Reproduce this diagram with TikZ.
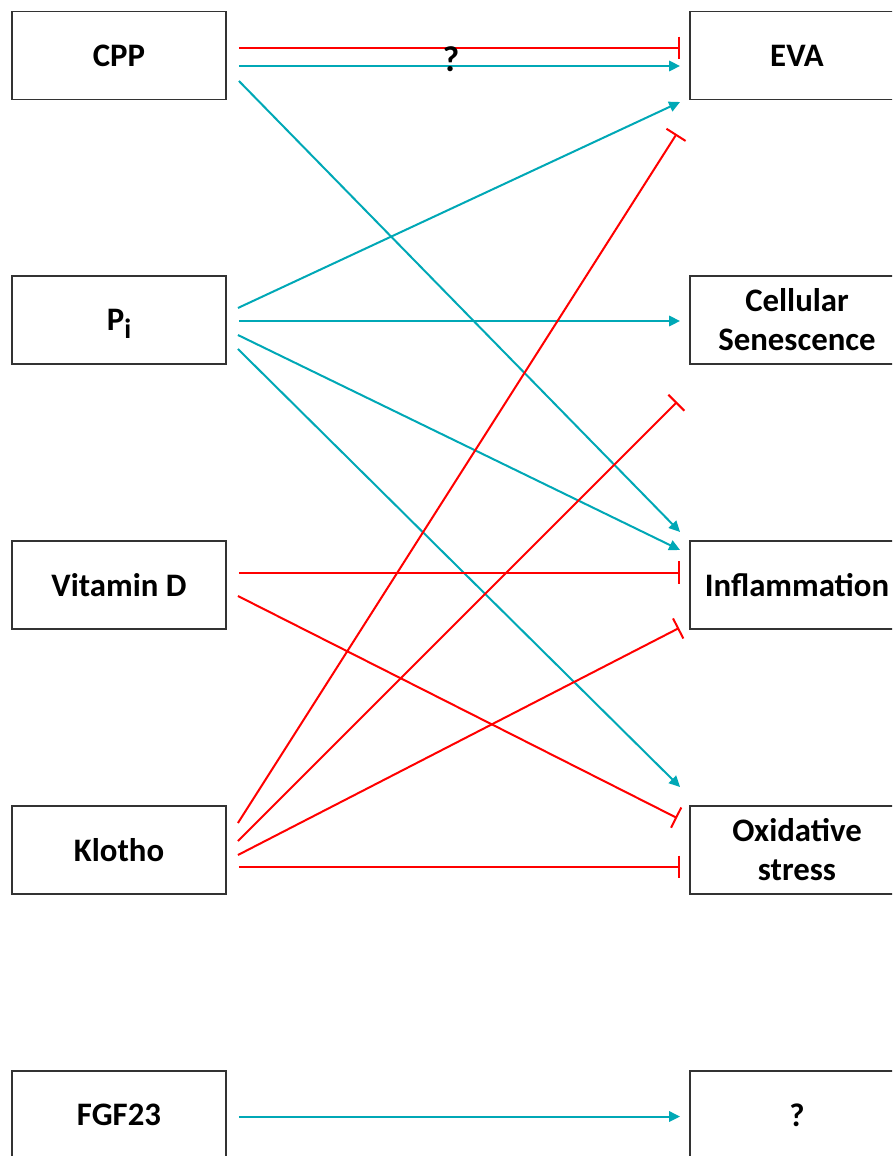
\documentclass[tikz,border=0pt]{standalone}
\usepackage{fontspec}
\setmainfont{Carlito}
\usetikzlibrary{arrows.meta}
\definecolor{teal1}{RGB}{0,168,182}
\definecolor{red1}{RGB}{255,0,0}
\tikzset{
  box/.style={draw=black!80, line width=1.4pt, fill=white, minimum width=160.5pt, minimum height=66pt,
    align=center, inner sep=0pt, font=\fontsize{24.6pt}{29.3pt}\selectfont\bfseries},
  act/.style={draw=teal1, line width=1.5pt, -{Triangle[length=8.25pt, width=7.8pt]}},
  inh/.style={draw=red1, line width=1.5pt, -{Bar[width=17pt]}},
  qlabel/.style={font=\fontsize{27pt}{30pt}\selectfont\bfseries, inner sep=0pt}
}
\begin{document}
\begin{tikzpicture}[x=0.75pt, y=-0.75pt]
\useasboundingbox (0,0) rectangle (892,1156);
\clip (0,0) rectangle (892,1156);
% left boxes
\node[box] (cpp)    at (119,55.5) {CPP};
\node[box] (pi)     at (119,320) {P\raisebox{-6pt}[0pt][0pt]{\fontsize{21pt}{21pt}\selectfont i}};
\node[box] (vitd)   at (119,585) {Vitamin D};
\node[box] (klotho) at (119,850) {Klotho};
\node[box] (fgf)    at (119,1115) {FGF23};
% right boxes
\node[box] (eva)  at (797,55.5) {EVA};
\node[box] (sen)  at (797,320) {Cellular\\Senescence};
\node[box] (infl) at (797,585) {Inflammation};
\node[box] (ox)   at (797,850) {Oxidative\\stress};
\node[box] (unk)  at (797,1115) {?};
% CPP
\draw[inh] ([shift={(12,-7.5)}]cpp.east) -- ([shift={(-9,-7.5)}]eva.west);
\draw[act] ([shift={(12,10.5)}]cpp.east) -- ([shift={(-9,10.5)}]eva.west);
\node[qlabel] (q) at (451,59) {?};
\draw[act] ([shift={(12,25.5)}]cpp.east) -- ([shift={(-9,-53)}]infl.west);
% Pi
\draw[act] ([shift={(11,-12)}]pi.east) -- ([shift={(-9,46.5)}]eva.west);
\draw[act] ([shift={(12,1)}]pi.east) -- ([shift={(-9,1)}]sen.west);
\draw[act] ([shift={(11,15)}]pi.east) -- ([shift={(-9,-35)}]infl.west);
\draw[act] ([shift={(11,29)}]pi.east) -- ([shift={(-9,-63)}]ox.west);
% Vitamin D
\draw[inh] ([shift={(12,-12.5)}]vitd.east) -- ([shift={(-9,-12.5)}]infl.west);
\draw[inh] ([shift={(11,11)}]vitd.east) -- ([shift={(-12,-32)}]ox.west);
% Klotho
\draw[inh] ([shift={(11,-27)}]klotho.east) -- ([shift={(-12.5,78.5)}]eva.west);
\draw[inh] ([shift={(11,-9)}]klotho.east) -- ([shift={(-12,82)}]sen.west);
\draw[inh] ([shift={(11,5)}]klotho.east) -- ([shift={(-10,43)}]infl.west);
\draw[inh] ([shift={(12,17)}]klotho.east) -- ([shift={(-9,17)}]ox.west);
% FGF23
\draw[act] ([shift={(12,1.5)}]fgf.east) -- ([shift={(-9,1.5)}]unk.west);
\end{tikzpicture}
\end{document}
